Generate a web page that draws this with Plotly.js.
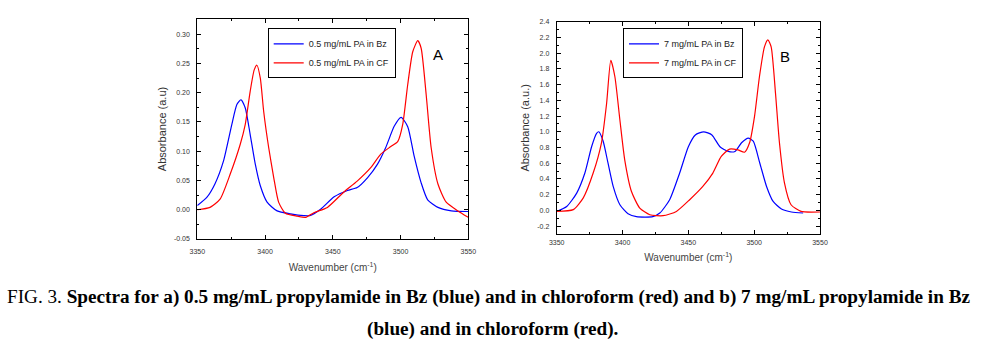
<!DOCTYPE html>
<html>
<head>
<meta charset="utf-8">
<script src="https://cdn.plot.ly/plotly-3.0.1.min.js"></script>
<style>html,body{margin:0;padding:0;background:#fff;}#chart{width:993px;height:356px;}</style>
</head>
<body>
<div id="chart"></div>
<script>
// Panel A: 0.5 mg/mL
const waveBzA = [3350,3357,3363,3369.3,3375.5,3379.2,3382.2,3385.4,3389,3392.8,3396.5,3401.5,3408.9,3418.8,3428.6,3433,3441,3451,3460.8,3468,3475.7,3483,3489,3495.4,3500.4,3505.3,3510,3515.2,3520,3527.6,3537.5,3550];
const absBzA  = [0.007,0.021,0.044,0.083,0.146,0.180,0.188,0.174,0.129,0.078,0.041,0.013,-0.002,-0.007,-0.010,-0.010,0.001,0.022,0.033,0.038,0.055,0.078,0.106,0.143,0.158,0.142,0.092,0.046,0.017,0.004,-0.002,-0.003];
const waveCfA = [3350,3359.4,3366.8,3374.3,3381.7,3385.4,3389,3392,3394,3396.5,3399,3402.7,3406.4,3410,3415,3423.7,3430,3436,3446,3458,3468,3478,3485.4,3492.8,3498,3501.6,3505.3,3509,3512.7,3515.2,3518.9,3522.6,3527.6,3533.7,3542.4,3550];
const absCfA  = [0.000,0.004,0.018,0.061,0.112,0.146,0.202,0.239,0.247,0.225,0.168,0.106,0.055,0.013,-0.006,-0.011,-0.013,-0.005,0.004,0.030,0.049,0.072,0.095,0.108,0.117,0.146,0.214,0.270,0.289,0.276,0.197,0.106,0.044,0.013,-0.002,-0.013];
// Panel B: 7 mg/mL
const waveBzB = [3350,3357.6,3365.2,3371.4,3376.5,3380.3,3382,3385.3,3389,3392.9,3398,3404.2,3410.6,3423,3428.3,3435.8,3443.4,3450,3455.3,3461.6,3467.9,3474,3480.3,3485.4,3490.4,3495.5,3499.3,3504.3,3509.4,3514.4,3520.7,3528.3,3537.2];
const absBzB  = [-0.013,0.05,0.22,0.475,0.81,0.98,1.00,0.88,0.60,0.305,0.072,-0.042,-0.08,-0.08,-0.034,0.136,0.475,0.81,0.96,1.00,0.96,0.81,0.75,0.75,0.86,0.92,0.88,0.60,0.305,0.114,0.018,-0.02,-0.033];
const waveCfB = [3350,3362.6,3370.2,3377.7,3384,3387.9,3391.1,3394.2,3398,3401.7,3406.8,3413.1,3420.7,3430.8,3440.9,3451,3461,3468.6,3475,3481.3,3487.6,3492.7,3496.5,3500.3,3504,3507.8,3510.4,3512.9,3516.2,3519.2,3523,3528,3535.6,3550];
const absCfB  = [-0.013,0.01,0.16,0.475,0.86,1.36,1.91,1.70,1.15,0.64,0.24,0.03,-0.055,-0.067,-0.013,0.136,0.305,0.475,0.686,0.78,0.77,0.74,0.86,1.20,1.70,2.08,2.17,2.08,1.49,0.86,0.35,0.072,-0.013,-0.02];

const namesA = ["0.5 mg/mL PA in Bz","0.5 mg/mL PA in CF"];
const namesB = ["7 mg/mL PA in Bz","7 mg/mL PA in CF"];
const xTickVals = [3350,3400,3450,3500,3550];
const yTickValsA = [-0.05,0.00,0.05,0.10,0.15,0.20,0.25,0.30];
const yTickTextA = ["-0.05","0.00","0.05","0.10","0.15","0.20","0.25","0.30"];
const yTickValsB = [-0.2,0,0.2,0.4,0.6,0.8,1.0,1.2,1.4,1.6,1.8,2.0,2.2,2.4];
const yTickTextB = ["-0.2","0.0","0.2","0.4","0.6","0.8","1.0","1.2","1.4","1.6","1.8","2.0","2.2","2.4"];

const BLUE = "rgb(0,0,255)", RED = "rgb(255,0,0)";
const ln = c => ({color:c, width:1.2, shape:"spline", smoothing:0.6});

const traces = [
  {x:waveBzA, y:absBzA, name:namesA[0], mode:"lines", line:ln(BLUE), xaxis:"x", yaxis:"y", legend:"legend"},
  {x:waveCfA, y:absCfA, name:namesA[1], mode:"lines", line:ln(RED), xaxis:"x", yaxis:"y", legend:"legend"},
  {x:waveBzB, y:absBzB, name:namesB[0], mode:"lines", line:ln(BLUE), xaxis:"x2", yaxis:"y2", legend:"legend2"},
  {x:waveCfB, y:absCfB, name:namesB[1], mode:"lines", line:ln(RED), xaxis:"x2", yaxis:"y2", legend:"legend2"}
];

const W = 993, H = 356;
const px = v => v / W, py = v => 1 - v / H;
const tickFont = {family:"Liberation Sans, Arial, sans-serif", size:7, color:"#333"};
const axBase = {
  showline:true, linecolor:"#000", linewidth:1, mirror:"allticks",
  ticks:"inside", ticklen:4, tickcolor:"#000", tickwidth:1,
  showgrid:false, zeroline:false, tickfont:tickFont, fixedrange:true
};
const titleFontX = {family:"Liberation Sans, Arial, sans-serif", size:10, color:"#444"};
const titleFontY = {family:"Liberation Sans, Arial, sans-serif", size:11, color:"#333"};

const legendBase = {
  bgcolor:"#fff", bordercolor:"#000", borderwidth:1,
  font:{family:"Liberation Sans, Arial, sans-serif", size:9, color:"#222"},
  xanchor:"left", yanchor:"top", tracegroupgap:0, itemwidth:30
};

const layout = {
  width:W, height:H, margin:{l:0,r:0,t:0,b:0},
  paper_bgcolor:"#fff", plot_bgcolor:"#fff",
  xaxis: Object.assign({}, axBase, {
    domain:[px(197.3), px(468.3)], range:[3350,3550], anchor:"y",
    tickvals:xTickVals, ticklabelstandoff:6,
    minor:{dtick:25, tick0:3350, ticks:"inside", ticklen:2, tickcolor:"#000"},
    title:{text:"Wavenumber (cm<sup>-1</sup>)", font:titleFontX, standoff:9}
  }),
  yaxis: Object.assign({}, axBase, {
    domain:[py(239), py(19)], range:[-0.05,0.326], anchor:"x",
    tickvals:yTickValsA, ticktext:yTickTextA, ticklabelstandoff:5,
    minor:{dtick:0.025, tick0:0, ticks:"inside", ticklen:2, tickcolor:"#000"},
    title:{text:"Absorbance (a.u)", font:titleFontY, standoff:5}
  }),
  xaxis2: Object.assign({}, axBase, {
    domain:[px(556.7), px(820)], range:[3350,3550], anchor:"y2",
    tickvals:xTickVals, ticklabelstandoff:2,
    minor:{dtick:25, tick0:3350, ticks:"inside", ticklen:2, tickcolor:"#000"},
    title:{text:"Wavenumber (cm<sup>-1</sup>)", font:titleFontX, standoff:8}
  }),
  yaxis2: Object.assign({}, axBase, {
    domain:[py(234), py(21.7)], range:[-0.3,2.4], anchor:"x2",
    tickvals:yTickValsB, ticktext:yTickTextB, ticklabelstandoff:5,
    minor:{dtick:0.1, tick0:0, ticks:"inside", ticklen:2, tickcolor:"#000"},
    title:{text:"Absorbance (a.u.)", font:titleFontY, standoff:5}
  }),
  legend: Object.assign({}, legendBase, {x:px(267.7), y:py(28.3)}),
  legend2: Object.assign({}, legendBase, {x:px(623), y:py(28.3)}),
  annotations:[
    {text:"A", xref:"paper", yref:"paper", x:px(438), y:py(44), showarrow:false,
     font:{family:"Liberation Sans, Arial, sans-serif", size:15, color:"#000"}},
    {text:"B", xref:"paper", yref:"paper", x:px(792), y:py(46), showarrow:false,
     font:{family:"Liberation Sans, Arial, sans-serif", size:15, color:"#000"}},
    {text:"FIG. 3. <b>Spectra for a) 0.5 mg/mL propylamide in Bz (blue) and in chloroform (red) and b) 7 mg/mL propylamide in Bz</b>",
     xref:"paper", yref:"paper", x:px(488.5), y:py(310), showarrow:false,
     font:{family:"Liberation Serif, Times New Roman, serif", size:19.2, color:"#000"}},
    {text:"<b>(blue) and in chloroform (red).</b>",
     xref:"paper", yref:"paper", x:px(492), y:py(342), showarrow:false,
     font:{family:"Liberation Serif, Times New Roman, serif", size:19.2, color:"#000"}}
  ],
  showlegend:true
};

Plotly.newPlot("chart", traces, layout, {staticPlot:true, displayModeBar:false});
</script>
</body>
</html>
